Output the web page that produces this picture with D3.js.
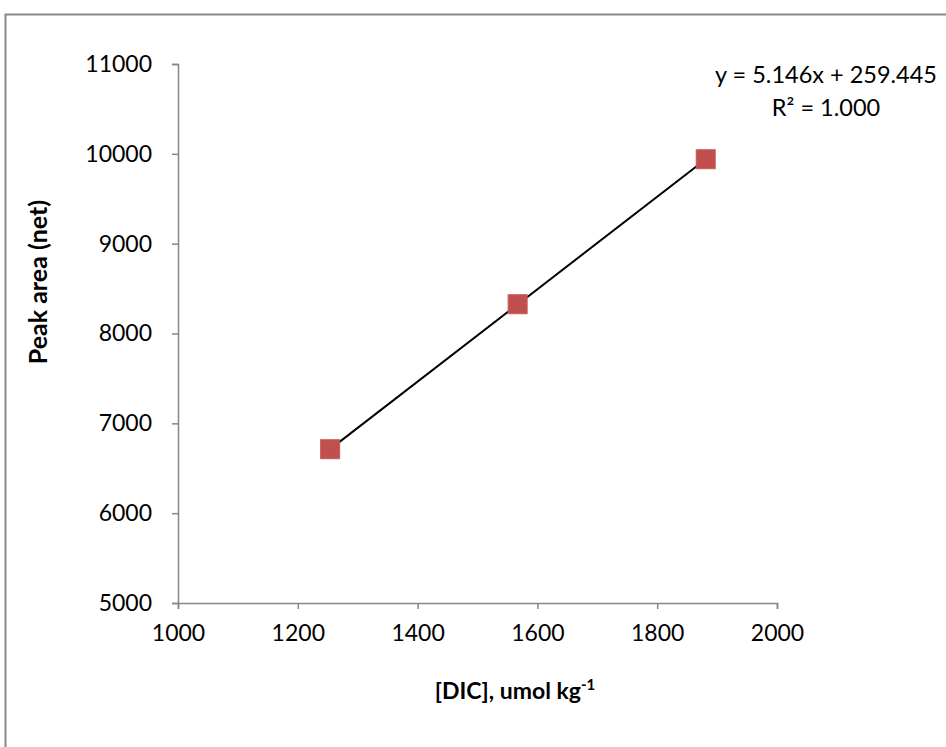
<!DOCTYPE html>
<html>
<head>
<meta charset="utf-8">
<script src="https://cdn.jsdelivr.net/npm/d3@7"></script>
<style>
  body { margin: 0; background: #fff; }
  text { font-family: Lato, "Open Sans", sans-serif; fill: #000; }
  .axis path, .axis line { stroke: #868686; stroke-width: 1.5px; }
  .axis text { font-size: 23px; }
</style>
</head>
<body>
<div id="chart"></div>
<script>
const dic = [1254, 1567, 1881];
const peakArea = [6712, 8326, 9940];
const xTicks = [1000, 1200, 1400, 1600, 1800, 2000];
const yTicks = [5000, 6000, 7000, 8000, 9000, 10000, 11000];
const slope = 5.146;
const intercept = 259.445;

const W = 946, H = 747;
const margin = {top: 64, right: 169, bottom: 144, left: 178};

const svg = d3.select('#chart')
  .append('svg')
  .attr('width', W)
  .attr('height', H);

// chart area border
svg.append('rect')
  .attr('x', 5.5)
  .attr('y', 14.5)
  .attr('width', W + 10)
  .attr('height', H + 10)
  .attr('fill', 'none')
  .attr('stroke', '#888')
  .attr('stroke-width', 2);

const x = d3.scaleLinear()
  .domain([1000, 2000])
  .range([margin.left, W - margin.right]);

const y = d3.scaleLinear()
  .domain([5000, 11000])
  .range([H - margin.bottom, margin.top]);

svg.append('g')
  .attr('class', 'axis')
  .attr('transform', `translate(0, ${y(5000)})`)
  .call(d3.axisBottom(x).tickValues(xTicks).tickSizeOuter(6).tickSize(6).tickPadding(16).tickFormat(d3.format('d')));

svg.append('g')
  .attr('class', 'axis')
  .attr('transform', `translate(${x(1000)}, 0)`)
  .call(d3.axisLeft(y).tickValues(yTicks).tickSize(6).tickSizeOuter(6).tickPadding(20).tickFormat(d3.format('d')));

// trendline over the data range
const x0 = d3.min(dic), x1 = d3.max(dic);
svg.append('line')
  .attr('x1', x(x0))
  .attr('y1', y(slope * x0 + intercept))
  .attr('x2', x(x1))
  .attr('y2', y(slope * x1 + intercept))
  .attr('stroke', '#000')
  .attr('stroke-width', 2);

const size = 19;
svg.selectAll('rect.pt')
  .data(dic)
  .join('rect')
  .attr('class', 'pt')
  .attr('x', d => x(d) - size / 2)
  .attr('y', (d, i) => y(peakArea[i]) - size / 2)
  .attr('width', size)
  .attr('height', size)
  .attr('fill', '#C0504D')
  .attr('stroke', '#C85A58')
  .attr('stroke-width', 1);

// trendline label
const eq = svg.append('text')
  .attr('text-anchor', 'middle')
  .style('font-size', '23.5px');
eq.append('tspan')
  .attr('x', 826)
  .attr('y', 83)
  .text(`y = ${slope.toFixed(3)}x + ${intercept.toFixed(3)}`);
eq.append('tspan')
  .attr('x', 826)
  .attr('y', 116)
  .text('R² = 1.000');

// axis titles
svg.append('text')
  .attr('transform', 'translate(47, 282) rotate(-90)')
  .attr('text-anchor', 'middle')
  .style('font-size', '25px')
  .style('font-weight', 'bold')
  .text('Peak area (net)');

const xt = svg.append('text')
  .attr('x', 515)
  .attr('y', 699)
  .attr('text-anchor', 'middle')
  .style('font-size', '23px')
  .style('font-weight', 'bold');
xt.append('tspan').text('[DIC], umol kg');
xt.append('tspan')
  .attr('dy', -9)
  .style('font-size', '15px')
  .text('-1');
</script>
</body>
</html>
